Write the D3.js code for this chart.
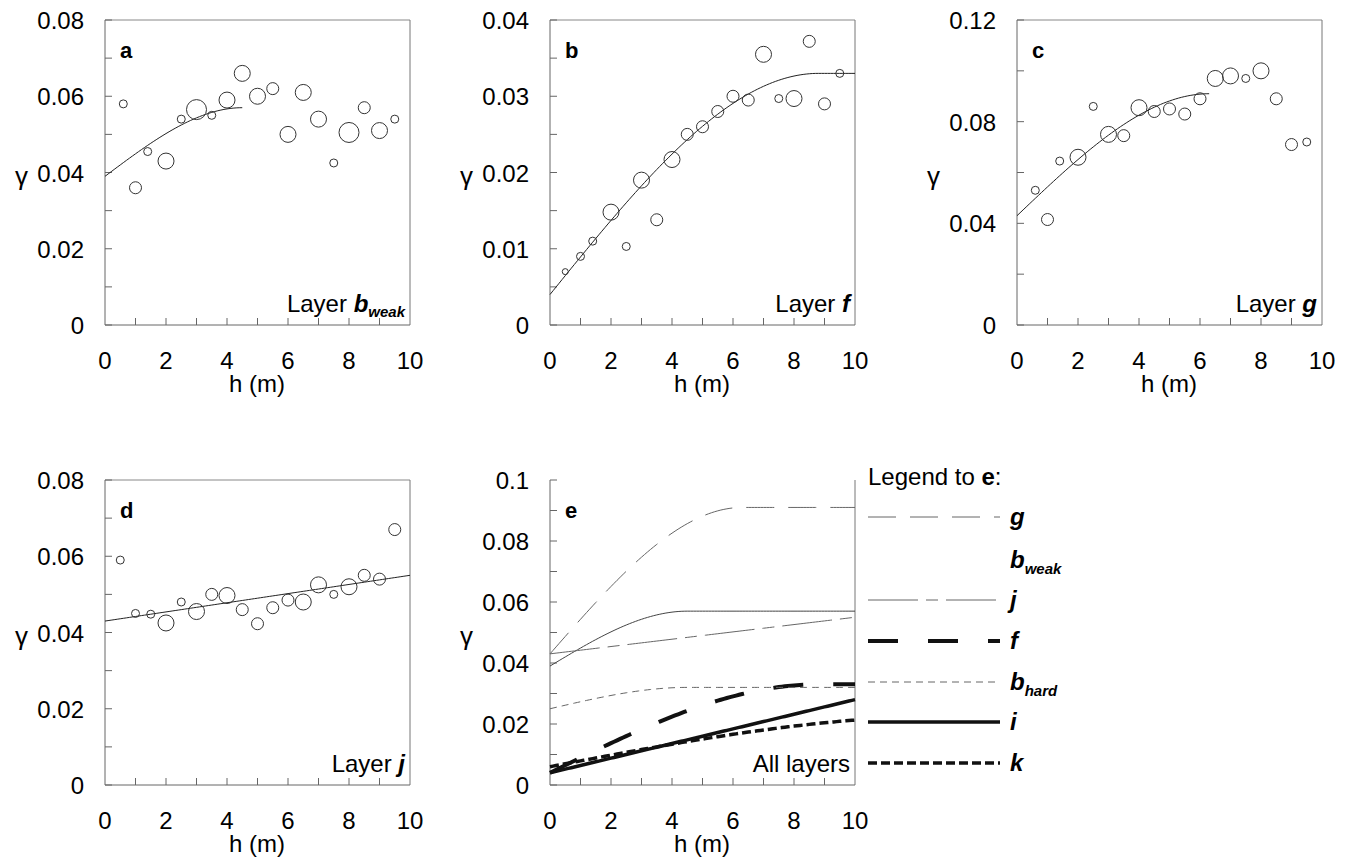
<!DOCTYPE html><html><head><meta charset="utf-8">
<script src="https://cdn.jsdelivr.net/npm/d3@7"></script>
<style>body{margin:0;background:#fff}text{font-family:"Liberation Sans",Arial,sans-serif}</style></head><body>
<svg id="c" width="1350" height="861"></svg>
<script>
// [h, gamma, sizeClass]
const ptsA=[[0.6,0.058,1],[1,0.036,2],[1.4,0.0455,1],[2,0.043,3],[2.5,0.054,1],[3,0.0565,4],[3.5,0.055,1],[4,0.059,3],[4.5,0.066,3],[5,0.060,3],[5.5,0.062,2],[6,0.050,3],[6.5,0.061,3],[7,0.054,3],[7.5,0.0425,1],[8,0.0505,4],[8.5,0.057,2],[9,0.051,3],[9.5,0.054,1]];
const ptsB=[[0.5,0.007,0],[1,0.009,1],[1.4,0.011,1],[2,0.0148,3],[2.5,0.0103,1],[3,0.019,3],[3.5,0.0138,2],[4,0.0217,3],[4.5,0.025,2],[5,0.026,2],[5.5,0.028,2],[6,0.030,2],[6.5,0.0295,2],[7,0.0355,3],[7.5,0.0297,1],[8,0.0297,3],[8.5,0.0372,2],[9,0.029,2],[9.5,0.033,1]];
const ptsC=[[0.6,0.053,1],[1,0.0415,2],[1.4,0.0645,1],[2,0.066,3],[2.5,0.086,1],[3,0.075,3],[3.5,0.0745,2],[4,0.0855,3],[4.5,0.084,2],[5,0.085,2],[5.5,0.083,2],[6,0.089,2],[6.5,0.097,3],[7,0.098,3],[7.5,0.097,1],[8,0.100,3],[8.5,0.089,2],[9,0.071,2],[9.5,0.072,1]];
const ptsD=[[0.5,0.059,1],[1,0.045,1],[1.5,0.0448,1],[2,0.0425,3],[2.5,0.048,1],[3,0.0455,3],[3.5,0.050,2],[4,0.0497,3],[4.5,0.046,2],[5,0.0423,2],[5.5,0.0465,2],[6,0.0485,2],[6.5,0.048,3],[7,0.0525,3],[7.5,0.050,1],[8,0.052,3],[8.5,0.055,2],[9,0.054,2],[9.5,0.067,2]];
// model params: spherical [nugget, partial sill, range]; linear [intercept, slope]
const mBweak=[0.039,0.018,4.5], mF=[0.004,0.029,8.8], mG=[0.043,0.048,6.3], mBhard=[0.025,0.007,4.5], mK=[0.006,0.0165,13];
const mJ=[0.043,0.0012], mI=[0.004,0.0024];
const xTicks=[0,2,4,6,8,10];
const yTicksA=[0,0.02,0.04,0.06,0.08], yTicksB=[0,0.01,0.02,0.03,0.04], yTicksC=[0,0.04,0.08,0.12], yTicksE=[0,0.02,0.04,0.06,0.08,0.1];
const radii=[3,4,6,8,10];

const svg=d3.select("#c");
const sph=(m,h)=>h<m[2]?m[0]+m[1]*(1.5*h/m[2]-0.5*Math.pow(h/m[2],3)):m[0]+m[1];
const lin=(m,h)=>m[0]+m[1]*h;
const hs=d3.range(0,10.001,0.1);
function panel(x0,y0,ymax,yt,minor,letter,layerTxt,layerSub,noTop){
  const x=d3.scaleLinear([0,10],[x0,x0+305]), y=d3.scaleLinear([0,ymax],[y0+305,y0]);
  const g=svg.append("g");
  if(!noTop)g.append("line").attr("x1",x0).attr("x2",x0+305).attr("y1",y0).attr("y2",y0).attr("stroke","#888");
  g.append("line").attr("x1",x0+305).attr("x2",x0+305).attr("y1",y0).attr("y2",y0+305).attr("stroke","#777");
  g.append("line").attr("x1",x0).attr("x2",x0).attr("y1",y0).attr("y2",y0+305).attr("stroke","#666");
  g.append("line").attr("x1",x0).attr("x2",x0+305).attr("y1",y0+305).attr("y2",y0+305).attr("stroke","#666");
  d3.range(1,10).forEach(t=>g.append("line").attr("x1",x(t)).attr("x2",x(t)).attr("y1",y0+305).attr("y2",y0+298).attr("stroke","#666"));
  d3.range(0,ymax+1e-9,minor).forEach(t=>g.append("line").attr("x1",x0).attr("x2",x0+7).attr("y1",y(t)).attr("y2",y(t)).attr("stroke","#666"));
  xTicks.forEach(t=>g.append("text").attr("x",x(t)).attr("y",y0+349).attr("text-anchor","middle").attr("font-size",24).text(t));
  yt.forEach(t=>g.append("text").attr("x",x0-21).attr("y",y(t)+9).attr("text-anchor","end").attr("font-size",24).text(t));
  g.append("text").attr("x",x0+152).attr("y",y0+372).attr("text-anchor","middle").attr("font-size",24).text("h (m)");
  g.append("text").attr("x",x0-90).attr("y",y0+165).attr("font-size",26).text("γ");
  g.append("text").attr("x",x0+15).attr("y",y0+38).attr("font-size",22).attr("font-weight","bold").text(letter);
  const lt=g.append("text").attr("x",x0+300).attr("y",y0+292).attr("text-anchor","end").attr("font-size",24).text(layerTxt);
  if(layerSub){lt.append("tspan").attr("font-weight","bold").attr("font-style","italic").text(layerSub[0]);
    if(layerSub[1])lt.append("tspan").attr("font-weight","bold").attr("font-style","italic").attr("font-size",15).attr("dy",5).text(layerSub[1]);}
  return {g,x,y};
}
function pts(p,data){p.g.selectAll(null).data(data).join("circle").attr("cx",d=>p.x(d[0])).attr("cy",d=>p.y(d[1])).attr("r",d=>radii[d[2]]).attr("fill","none").attr("stroke","#333").attr("stroke-width",1);}
function curve(p,f,hmax,style){const line=d3.line().x(d=>p.x(d)).y(d=>p.y(f(d)));
  const path=p.g.append("path").attr("d",line(hs.filter(h=>h<=hmax+1e-9))).attr("fill","none").attr("stroke",style.c||"#222").attr("stroke-width",style.w||1);
  if(style.da)path.attr("stroke-dasharray",style.da);}

const pa=panel(105,20,0.08,yTicksA,0.01,"a","Layer ",["b","weak"]);
curve(pa,h=>sph(mBweak,h),4.5,{}); pts(pa,ptsA);
const pb=panel(550,20,0.04,yTicksB,0.005,"b","Layer ",["f"]);
curve(pb,h=>sph(mF,h),10,{}); pts(pb,ptsB);
const pc=panel(1017,20,0.12,yTicksC,0.02,"c","Layer ",["g"]);
curve(pc,h=>sph(mG,h),6.3,{}); pts(pc,ptsC);
const pd=panel(105,480,0.08,yTicksA,0.01,"d","Layer ",["j"]);
curve(pd,h=>lin(mJ,h),10,{}); pts(pd,ptsD);
const pe=panel(550,480,0.1,yTicksE,0.01,"e","All layers",null,true);
const styles={g:{c:"#666",da:"28,14"},bweak:{c:"#444"},j:{c:"#666",da:"50,8,12,8"},f:{c:"#111",w:4,da:"30,30"},bhard:{c:"#666",da:"7,5"},i:{c:"#111",w:3.5},k:{c:"#111",w:3.5,da:"9,4"}};
curve(pe,h=>sph(mG,h),10,styles.g);
curve(pe,h=>sph(mBweak,h),10,styles.bweak);
curve(pe,h=>lin(mJ,h),10,styles.j);
curve(pe,h=>sph(mF,h),10,styles.f);
curve(pe,h=>sph(mBhard,h),10,styles.bhard);
curve(pe,h=>sph(mK,h),10,styles.k);
curve(pe,h=>lin(mI,h),10,styles.i);
// legend
const legend=[["g",null,"g",517],["b","weak","bweak",560],["j",null,"j",600],["f",null,"f",641],["b","hard","bhard",682],["i",null,"i",722],["k",null,"k",763]];
const lg=svg.append("text").attr("x",868).attr("y",485).attr("font-size",24).text("Legend to ");
lg.append("tspan").attr("font-weight","bold").text("e");
lg.append("tspan").text(":");
legend.forEach(([a,b,key,yy])=>{
  if(key!=="bweak"){const s=styles[key];svg.append("line").attr("x1",868).attr("x2",1000).attr("y1",yy).attr("y2",yy).attr("stroke",s.c).attr("stroke-width",s.w||1).attr("stroke-dasharray",s.da||null);}
  const t=svg.append("text").attr("x",1010).attr("y",yy+8).attr("font-size",24).attr("font-weight","bold").attr("font-style","italic").text(a);
  if(b)t.append("tspan").attr("font-size",15).attr("dy",6).text(b);
});
</script></body></html>
